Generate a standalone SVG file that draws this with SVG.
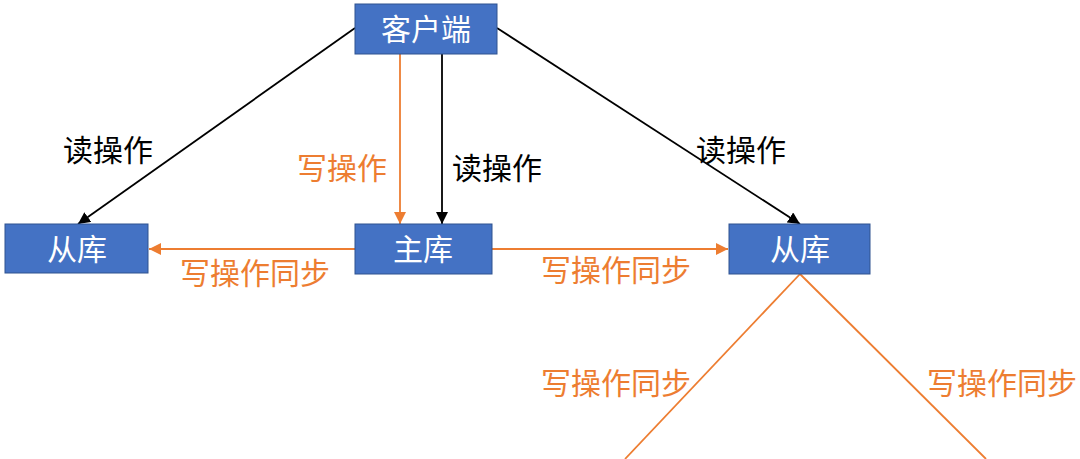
<svg xmlns="http://www.w3.org/2000/svg" width="1080" height="459" viewBox="0 0 1080 459">
<style>
.box{fill:#4472C4;stroke:#2F528F;stroke-width:1}
.nt{fill:#fff;font-family:"Noto Sans CJK SC","Noto Sans",sans-serif;font-size:30px;text-anchor:middle}
.lb{font-family:"Noto Sans CJK SC","Noto Sans",sans-serif;font-size:30px}
.blk{fill:#000}
.org{fill:#ED7D31}
.lk{stroke:#000;stroke-width:1.8;fill:none}
.lo{stroke:#ED7D31;stroke-width:1.8;fill:none}
</style>
<defs>
<marker id="ab" markerUnits="userSpaceOnUse" markerWidth="14" markerHeight="12" refX="12" refY="6" orient="auto"><path d="M0,0 L12,6 L0,12 Z" fill="#000"/></marker>
<marker id="ao" markerUnits="userSpaceOnUse" markerWidth="14" markerHeight="12" refX="12" refY="6" orient="auto"><path d="M0,0 L12,6 L0,12 Z" fill="#ED7D31"/></marker>
</defs>
<rect width="1080" height="459" fill="#fff"/>
<g id="connectors">
<line class="lk" x1="355" y1="28" x2="78" y2="224" marker-end="url(#ab)"/>
<line class="lk" x1="497" y1="28" x2="800" y2="224" marker-end="url(#ab)"/>
<line class="lo" x1="400" y1="54" x2="400" y2="224" marker-end="url(#ao)"/>
<line class="lk" x1="442" y1="54" x2="442" y2="224" marker-end="url(#ab)"/>
<line class="lo" x1="355" y1="249" x2="149" y2="249" marker-end="url(#ao)"/>
<line class="lo" x1="492" y1="249" x2="728" y2="249" marker-end="url(#ao)"/>
<line class="lo" x1="800" y1="274" x2="625" y2="459"/>
<line class="lo" x1="800" y1="274" x2="986" y2="459"/>
<text class="lb blk" x="63" y="161">读操作</text>
<text class="lb org" x="297" y="179">写操作</text>
<text class="lb blk" x="452" y="179">读操作</text>
<text class="lb blk" x="696" y="161">读操作</text>
<text class="lb org" x="180" y="284">写操作同步</text>
<text class="lb org" x="541" y="281">写操作同步</text>
<text class="lb org" x="541" y="394">写操作同步</text>
<text class="lb org" x="927" y="394">写操作同步</text>
</g>
<g id="client"><rect class="box" x="355" y="4" width="142" height="50"/><text class="nt" x="426" y="40">客户端</text></g>
<g id="slave-left"><rect class="box" x="5" y="224" width="143" height="49"/><text class="nt" x="77" y="260">从库</text></g>
<g id="master"><rect class="box" x="355" y="224" width="137" height="50"/><text class="nt" x="423" y="260">主库</text></g>
<g id="slave-right"><rect class="box" x="729" y="224" width="141" height="50"/><text class="nt" x="800" y="260">从库</text></g>
</svg>
